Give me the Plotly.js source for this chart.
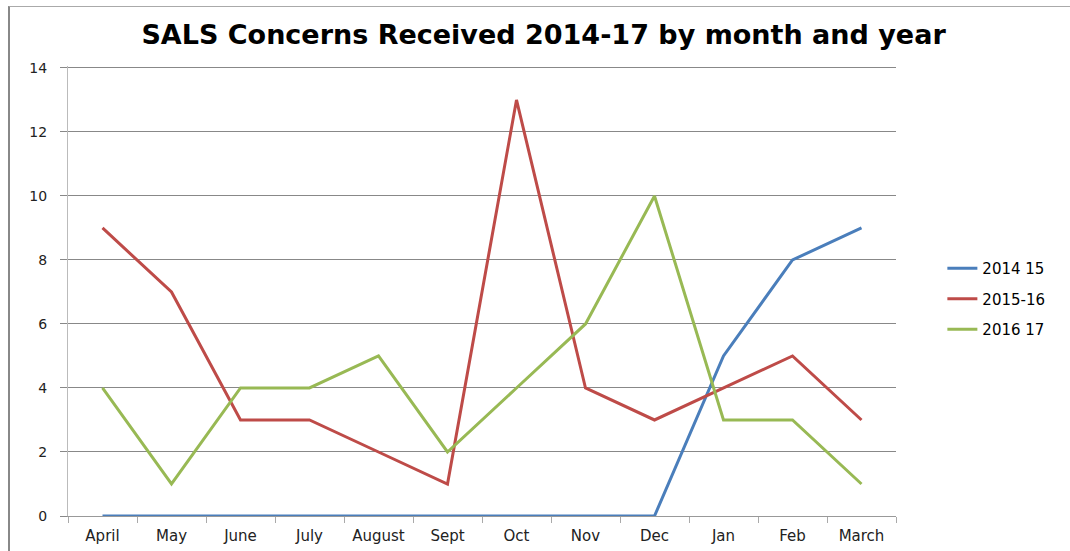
<!DOCTYPE html>
<html>
<head>
<meta charset="utf-8">
<script src="https://cdn.plot.ly/plotly-3.0.1.min.js"></script>
<style>
html,body{margin:0;padding:0;background:#fff;}
#frame{position:absolute;left:8px;top:6px;width:1080px;height:560px;border-left:2px solid #888;border-top:1px solid #aaa;}
#chart{position:absolute;left:0;top:0;width:1070px;height:551px;}
</style>
</head>
<body>
<div id="frame"></div>
<div id="chart"></div>
<script>
var months = ["April","May","June","July","August","Sept","Oct","Nov","Dec","Jan","Feb","March"];
var s2014_15 = [0,0,0,0,0,0,0,0,0,5,8,9];
var s2015_16 = [9,7,3,3,2,1,13,4,3,4,5,3];
var s2016_17 = [4,1,4,4,5,2,4,6,10,3,3,1];
var seriesNames = ["2014 15","2015-16","2016 17"];
var colors = ["#4a7ebb","#be4b48","#98b954"];

var traces = [s2014_15, s2015_16, s2016_17].map(function(v,i){
  return {x: months, y: v, type: "scatter", mode: "lines", name: seriesNames[i],
          legendgroup: "g" + i,
          line: {color: colors[i], width: 3}};
});

var layout = {
  width: 1070, height: 551,
  paper_bgcolor: "rgba(0,0,0,0)", plot_bgcolor: "rgba(0,0,0,0)",
  margin: {l: 68, r: 174, t: 66, b: 35},
  title: {text: "SALS Concerns Received 2014-17 by month and year",
          font: {family: "DejaVu Sans", size: 27, color: "#000", weight: "bold"},
          x: 0.508, xanchor: "center", y: 0.937, yanchor: "middle"},
  xaxis: {type: "category", range: [-0.5, 11.5], tickson: "boundaries",
          ticks: "outside", ticklen: 6, tickcolor: "#aaa", ticklabelstandoff: 6,
          showline: true, linecolor: "#999", linewidth: 1, showgrid: false,
          tickfont: {family: "DejaVu Sans", size: 15, color: "#222"}, fixedrange: true},
  yaxis: {range: [0, 14.06], tickvals: [0,2,4,6,8,10,12,14], ticks: "outside", ticklen: 7, tickcolor: "#888",
          ticklabelstandoff: 10,
          showline: true, linecolor: "#bbb", linewidth: 1,
          showgrid: true, gridcolor: "#888", gridwidth: 1, zeroline: false,
          tickfont: {family: "DejaVu Sans", size: 14, color: "#222"}, fixedrange: true},
  showlegend: true,
  legend: {x: 1.056, xanchor: "left", y: 0.482, yanchor: "middle",
           font: {family: "DejaVu Sans", size: 15, color: "#000"},
           traceorder: "grouped", tracegroupgap: 8,
           itemwidth: 30, bgcolor: "rgba(0,0,0,0)"}
};
Plotly.newPlot("chart", traces, layout, {displayModeBar: false, staticPlot: true});
</script>
</body>
</html>
